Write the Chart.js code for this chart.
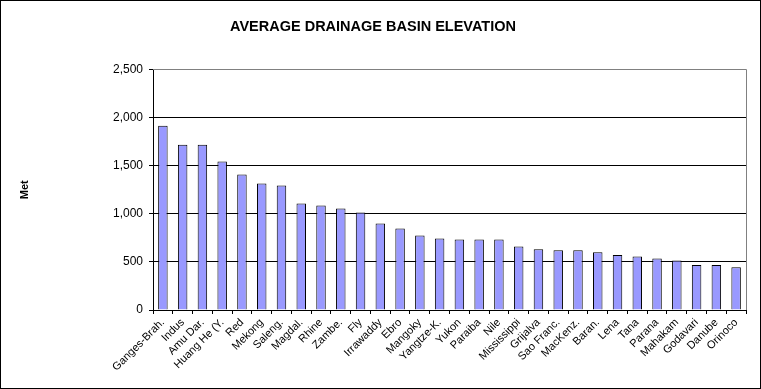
<!DOCTYPE html>
<html>
<head>
<meta charset="utf-8">
<script src="https://cdn.jsdelivr.net/npm/chart.js@4/dist/chart.umd.min.js"></script>
<style>
  html, body { margin: 0; padding: 0; background: #fff; }
  #wrap { width: 761px; height: 389px; position: relative; }
</style>
</head>
<body>
<div id="wrap"><canvas id="basinChart" width="761" height="389"></canvas></div>
<script>
// Rivers (labels truncated the way the original sheet shows them)
const rivers = [
    'Ganges-Brah.', 'Indus', 'Amu Dar.', 'Huang He (Y.', 'Red', 'Mekong',
    'Saleng.', 'Magdal.', 'Rhine', 'Zambe.', 'Fly', 'Irrawaddy',
    'Ebro', 'Mangoky', 'Yangtze-K.', 'Yukon', 'Paraiba', 'Nile',
    'Mississippi', 'Grijalva', 'Sao Franc.', 'MacKenz.', 'Baran.', 'Lena',
    'Tana', 'Parana', 'Mahakam', 'Godavari', 'Danube', 'Orinoco'
];

// Average basin elevation, metres
const elevation = [
    1915, 1718, 1718, 1542, 1407, 1314,
    1293, 1106, 1086, 1055, 1013, 899,
    847, 775, 744, 733, 733, 733,
    661, 630, 620, 620, 599, 571,
    557, 536, 515, 467, 467, 443
];

const yTicks = [0, 500, 1000, 1500, 2000, 2500];

// outer frame + gray plot border (top / right)
const frame = {
    id: 'frame',
    beforeDraw(chart) {
        const { ctx } = chart;
        ctx.save();
        ctx.fillStyle = '#ffffff';
        ctx.fillRect(0, 0, chart.width, chart.height);
        ctx.restore();
    },
    afterDraw(chart) {
        const { ctx, chartArea } = chart;
        ctx.save();
        ctx.strokeStyle = '#808080';
        ctx.lineWidth = 1;
        ctx.beginPath();
        ctx.moveTo(chartArea.left, Math.round(chartArea.top) + 0.5);
        ctx.lineTo(Math.round(chartArea.right) + 0.5, Math.round(chartArea.top) + 0.5);
        ctx.lineTo(Math.round(chartArea.right) + 0.5, chartArea.bottom);
        ctx.stroke();
        ctx.strokeStyle = '#000000';
        ctx.strokeRect(0.5, 0.5, chart.width - 1, chart.height - 1);
        ctx.restore();
    }
};

Chart.defaults.font.family = "'Liberation Sans', Arial, sans-serif";
Chart.defaults.color = '#000000';

new Chart(document.getElementById('basinChart'), {
    type: 'bar',
    data: {
        labels: rivers,
        datasets: [{
            label: 'Elevation',
            data: elevation,
            backgroundColor: '#9999FF',
            borderColor: '#000000',
            borderWidth: 1,
            barPercentage: 0.48,
            categoryPercentage: 1
        }]
    },
    options: {
        responsive: false,
        animation: false,
        devicePixelRatio: 1,
        layout: { padding: { left: 0, right: 15, top: 0, bottom: 0 } },
        plugins: {
            legend: { display: false },
            tooltip: { enabled: false },
            title: {
                display: true,
                text: 'AVERAGE DRAINAGE BASIN ELEVATION',
                color: '#000000',
                font: { size: 14.5, weight: 'bold' },
                padding: { top: 18, bottom: 34 }
            }
        },
        scales: {
            x: {
                offset: true,
                afterFit(scale) { scale.height = 79; },
                grid: {
                    offset: true,
                    drawOnChartArea: false,
                    drawTicks: true,
                    tickLength: 4,
                    color: '#000000'
                },
                border: { color: '#000000', width: 1 },
                ticks: {
                    autoSkip: false,
                    minRotation: 45,
                    maxRotation: 45,
                    padding: 2,
                    font: { size: 11 },
                    color: '#000000'
                }
            },
            y: {
                min: 0,
                max: 2500,
                afterFit(scale) { scale.width = 153; },
                afterBuildTicks(scale) { scale.ticks = yTicks.map(v => ({ value: v })); },
                grid: {
                    color: ctx => (ctx.tick && ctx.tick.value === 2500) ? '#808080' : '#000000',
                    tickColor: '#000000',
                    tickLength: 4,
                    drawTicks: true
                },
                border: { color: '#000000', width: 1 },
                ticks: {
                    padding: 6,
                    font: { size: 12 },
                    color: '#000000',
                    callback: v => v.toLocaleString('en-US')
                },
                title: {
                    display: true,
                    text: 'Met',
                    color: '#000000',
                    font: { size: 11, weight: 'bold' },
                    padding: { top: 18, bottom: 0 }
                }
            }
        }
    },
    plugins: [frame]
});
</script>
</body>
</html>
